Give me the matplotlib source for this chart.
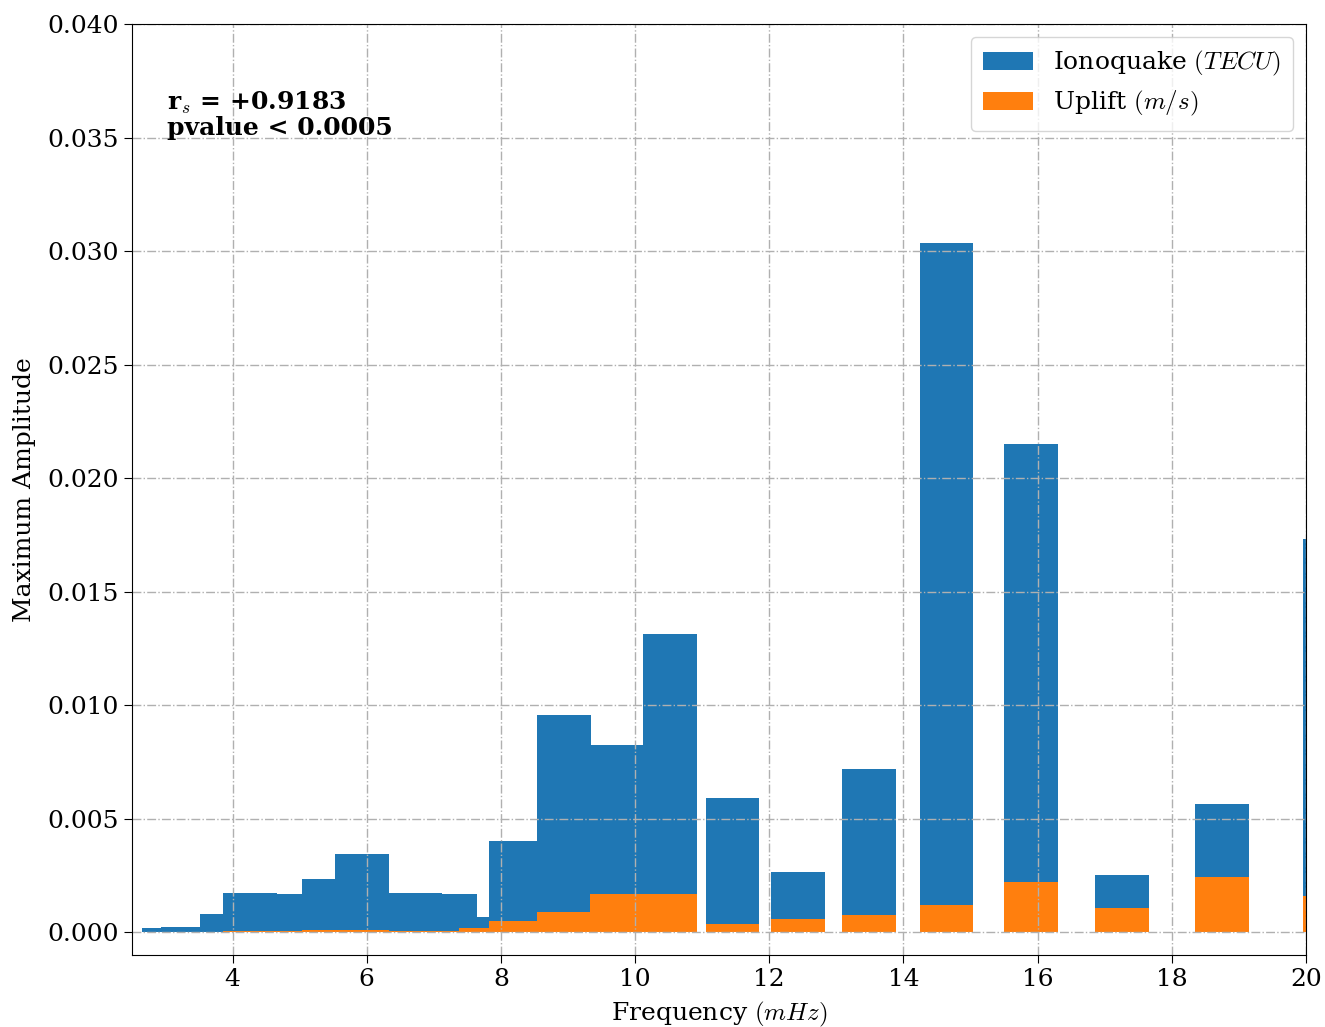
import matplotlib
matplotlib.use("Agg")
import matplotlib.pyplot as plt

plt.rcParams['font.family'] = 'DejaVu Serif'
plt.rcParams['mathtext.fontset'] = 'cm'

# bar centres (mHz)
freq = [3.05, 3.33, 3.91, 4.26, 5.06, 5.44, 5.93, 6.72, 7.24, 7.78, 8.22,
        8.94, 9.73, 10.52, 11.45, 12.43, 13.49, 14.64, 15.90, 17.26, 18.75, 20.36]
iono = [0.00017, 0.00023, 0.00082, 0.00175, 0.00169, 0.00236, 0.00346, 0.00175,
        0.00170, 0.00067, 0.00404, 0.00958, 0.00823, 0.01315, 0.00593, 0.00267,
        0.00720, 0.03037, 0.02152, 0.00254, 0.00565, 0.01733]
uplift = [0.00002, 0.00002, 0.00003, 0.00004, 0.00006, 0.00008, 0.00008, 0.00005,
          0.00004, 0.00018, 0.00050, 0.00090, 0.00167, 0.00167, 0.00038, 0.00060,
          0.00076, 0.00120, 0.00220, 0.00109, 0.00242, 0.00158]

fig = plt.figure(figsize=(13.25, 10.27), dpi=100)
ax = fig.add_axes([0.0996, 0.0701, 0.886, 0.9065])

ax.bar(freq, iono, width=0.8, color='#1f77b4', label='Ionoquake $(TECU)$')
ax.bar(freq, uplift, width=0.8, color='#ff7f0e', label='Uplift $(m/s)$')

ax.set_xlim(2.5, 20)
ax.set_ylim(-0.001, 0.040)
ax.set_xticks(range(4, 21, 2))
ax.set_yticks([i * 0.005 for i in range(9)])
ax.set_yticklabels(['%.3f' % (i * 0.005) for i in range(9)])
ax.tick_params(labelsize=18, length=6)
ax.grid(True, linestyle='-.', color='#b0b0b0', linewidth=1.0)

ax.set_xlabel('Frequency $(mHz)$', fontsize=18, labelpad=6)
ax.set_ylabel('Maximum Amplitude', fontsize=18, labelpad=8)

ax.text(3.02, 0.0371, 'r$_s$ = +0.9183\npvalue < 0.0005',
        fontsize=18, fontweight='bold', va='top', linespacing=1.0)

ax.legend(loc='upper right', fontsize=18, handlelength=2.0, borderpad=0.5,
          labelspacing=0.45)

fig.savefig('out.png', dpi=100)
